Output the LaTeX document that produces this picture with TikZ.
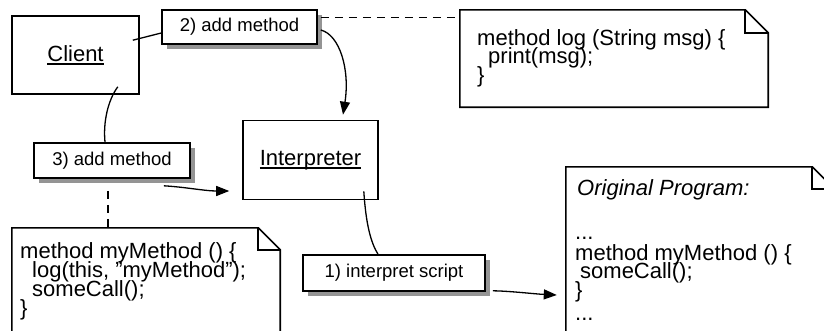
\documentclass[tikz,border=0pt]{standalone}
\usepackage{fontspec}
\setmainfont{Liberation Sans}
\usetikzlibrary{arrows.meta,calc,shadows}

% underline at a fixed distance below the baseline
\newcommand\undl[1]{\setbox0\hbox{#1}\rlap{\rule[-3.4pt]{\wd0}{1.2pt}}\box0}

\begin{document}
\begin{tikzpicture}[x=1pt,y=-1pt,
  objbox/.style={draw,line width=1.6pt,inner sep=0pt,font=\fontsize{22}{19}\selectfont},
  stepbox/.style={draw,line width=1.6pt,fill=white,inner sep=0pt,
    font=\fontsize{18.5}{18.5}\selectfont,
    drop shadow={shadow xshift=5pt,shadow yshift=-5pt,fill=black!42,opacity=1}},
  notearea/.style={inner sep=0pt},
  noteline/.style={line width=1.6pt,line join=miter},
  codeline/.style={anchor=base west,inner sep=0pt,font=\fontsize{22}{19}\selectfont},
  link/.style={line width=1.3pt},
  flow/.style={line width=1.3pt,-{Triangle[length=13pt,width=10pt]}},
  hint/.style={line width=1.3pt,dash pattern=on 8pt off 6pt},
]
\useasboundingbox (0,0) rectangle (824,330);
\clip (0,0) rectangle (824,330);
\fill[white] (0,0) rectangle (824,330);

% objects
\node[objbox,minimum width=127pt,minimum height=78pt] (client) at (75.5,55) {\undl{Client}};
\node[objbox,minimum width=135pt,minimum height=79pt] (interp) at (310.5,160) {\undl{Interpreter}};

% note areas (outlines drawn below)
\node[notearea,minimum width=308pt,minimum height=97pt] (note1) at (614,58.5) {};
\node[notearea,minimum width=268pt,minimum height=112pt] (note2) at (146,284) {};
\node[notearea,minimum width=268pt,minimum height=173pt] (note3) at (700,253.5) {};

\foreach \n/\f in {note1/23,note2/22,note3/22}{
  \draw[noteline] (\n.north west) -- ($(\n.north east)+(-\f,0)$)
    -- ($(\n.north east)+(0,\f)$) -- (\n.south east) -- (\n.south west) -- cycle;
  \draw[noteline] ($(\n.north east)+(-\f,0)$) -- ($(\n.north east)+(-\f,\f)$)
    -- ($(\n.north east)+(0,\f)$);
}

% note texts
\node[codeline] (n1a) at (477,45) {method log (String msg) \{};
\node[codeline] (n1b) at (488,63.5) {print(msg);};
\node[codeline] (n1c) at (477,82) {\}};

\node[codeline] (n2a) at (20,258) {method myMethod () \{};
\node[codeline] (n2b) at (32,277) {log(this, "myMethod");};
\node[codeline] (n2c) at (32,296) {someCall();};
\node[codeline] (n2d) at (20,315) {\}};

\node[codeline] (n3a) at (577,195) {\itshape Original Program:};
\node[codeline] (n3b) at (575,239) {...};
\node[codeline] (n3c) at (575,260) {method myMethod () \{};
\node[codeline] (n3d) at (580,278.5) {someCall();};
\node[codeline] (n3e) at (575,297) {\}};
\node[codeline] (n3f) at (575,320) {...};

% step labels
\node[stepbox,minimum width=155pt,minimum height=34pt] (lbl2) at (239.5,27) {2) add method};
\node[stepbox,minimum width=156pt,minimum height=35pt] (lbl3) at (112,160.5) {3) add method};
\node[stepbox,minimum width=182pt,minimum height=36pt] (lbl1) at (394,273) {1) interpret script};

% plain links from the objects to their step labels
\draw[link] ($(client.north east)+(-7,25)$) -- ($(lbl2.west)+(0,6)$);
\draw[link] ($(client.south east)+(-22,-8)$) .. controls (108,100) and (103,122) .. ($(lbl3.north)+(-7,0)$);
\draw[link] ($(interp.south east)+(-15,-9)$) .. controls (366,225) and (371,243) .. ($(lbl1.north)+(-16,0)$);

% message arrows
\draw[flow] ($(lbl2.east)+(3,3)$) .. controls (340,35) and (350,70) .. ($(interp.north)+(32.5,-5)$);
\draw[flow] ($(lbl3.south east)+(-27,7)$) .. controls (185,187) and (205,191) .. ($(interp.west)+(-13,31)$);
\draw[flow] ($(lbl1.south east)+(7,-1)$) .. controls (510,291) and (535,294) .. ($(note3.west)+(-9,41.5)$);

% dashed note anchors
\draw[hint] ($(lbl2.north east)+(3,8.5)$) coordinate (h2) -- (note1.west |- h2);
\draw[hint] ($(lbl3.south)+(-4,12)$) coordinate (h3) -- (h3 |- note2.north);
\end{tikzpicture}
\end{document}
